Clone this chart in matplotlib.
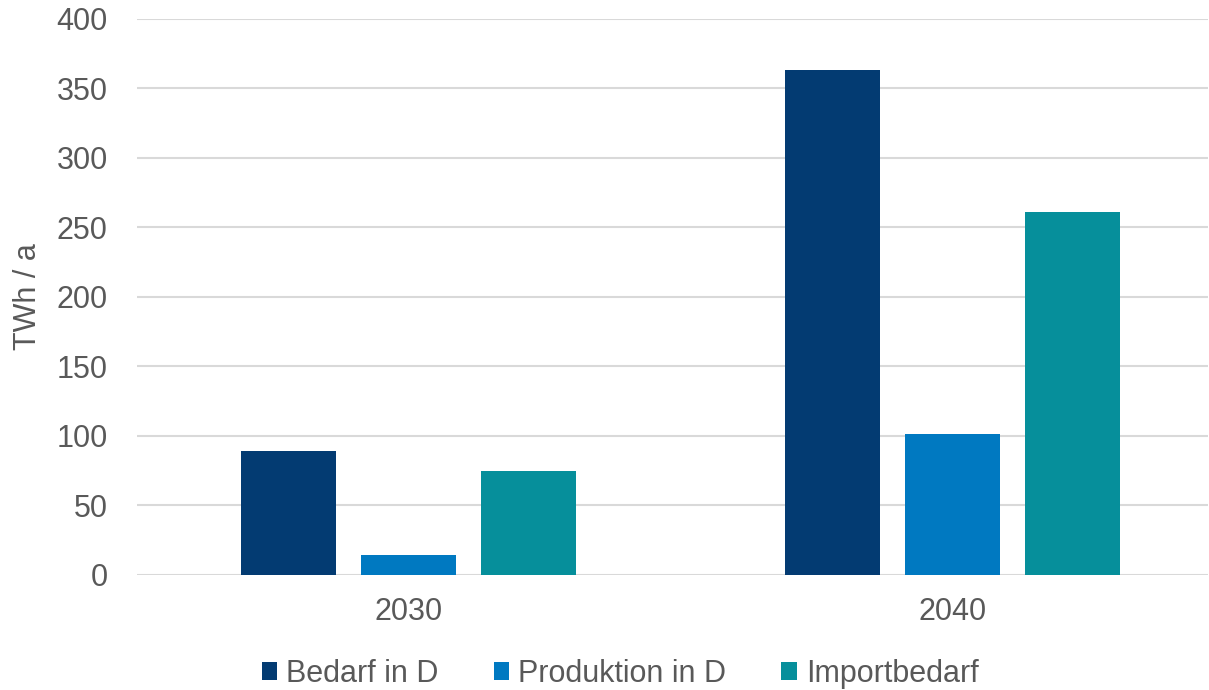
import matplotlib
matplotlib.use("Agg")
import matplotlib.pyplot as plt
import numpy as np

plt.rcParams['font.family'] = ['Liberation Sans', 'DejaVu Sans']

categories = ["2030", "2040"]
series_names = ["Bedarf in D", "Produktion in D", "Importbedarf"]
bedarf = [89.5, 363]
produktion = [14.5, 101.5]
import_bedarf = [75, 261]
colors = ["#033B72", "#0079C1", "#068F9B"]
yticks = [0, 50, 100, 150, 200, 250, 300, 350, 400]

text_color = "#595959"
fs = 22

fig = plt.figure(figsize=(12.09, 6.90), dpi=100)
ax = fig.add_axes([0.1133, 0.1667, 0.8857, 0.8058])

x = np.arange(len(categories))
width = 0.1746
step = 0.2206
for i, (vals, name, c) in enumerate(zip([bedarf, produktion, import_bedarf], series_names, colors)):
    ax.bar(x + (i - 1) * step, vals, width, color=c, label=name, zorder=3)

ax.set_xlim(-0.5, 1.469)
ax.set_ylim(0, 400)
ax.set_yticks(yticks)
ax.set_xticks(x)
ax.set_xticklabels(categories)
ax.grid(axis='y', color='#D9D9D9', linewidth=1.5, zorder=0)
ax.set_axisbelow(True)
for s in ax.spines.values():
    s.set_visible(False)
ax.tick_params(axis='both', length=0, labelsize=fs, colors=text_color)
ax.tick_params(axis='y', pad=21)
ax.tick_params(axis='x', pad=16)
ax.set_ylabel("TWh / a", fontsize=fs, color=text_color, labelpad=10)

handles, labels = ax.get_legend_handles_labels()
fig.legend(handles, labels, loc='lower center', bbox_to_anchor=(0.513, -0.038), ncol=3,
           frameon=False, fontsize=fs, handlelength=0.5, handleheight=0.5,
           handletextpad=0.3, columnspacing=1.8, labelcolor=text_color)

fig.savefig("out.png", dpi=100)
